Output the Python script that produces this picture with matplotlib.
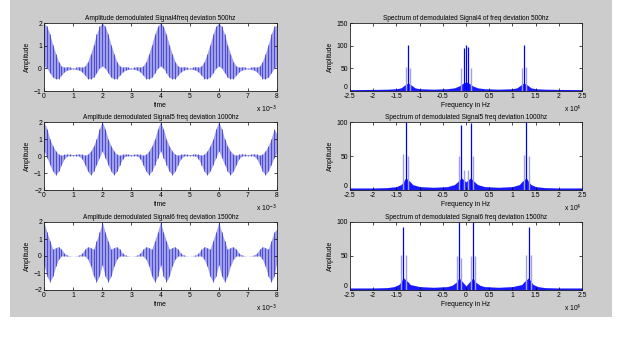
import numpy as np
import matplotlib
matplotlib.use('Agg')
import matplotlib.pyplot as plt
from matplotlib.patches import Rectangle

plt.rcParams['font.family'] = ['Liberation Sans', 'DejaVu Sans']

# ---- time domain: upper / lower envelope, sampled every 0.1 ms (0 .. 8 ms) ----
time_ms = np.arange(0, 8.05, 0.1)

sig4_up = [2.0, 1.85, 1.5, 1.05, 0.65, 0.3, 0.1, 0.05, 0.08, 0.05, 0.0, 0.05, 0.08, 0.05, 0.1, 0.3, 0.65, 1.05, 1.5, 1.85,
           2.0, 1.85, 1.5, 1.05, 0.65, 0.3, 0.1, 0.05, 0.08, 0.05, 0.0, 0.05, 0.08, 0.05, 0.1, 0.3, 0.65, 1.05, 1.5, 1.85,
           2.0, 1.85, 1.5, 1.05, 0.65, 0.3, 0.1, 0.05, 0.08, 0.05, 0.0, 0.05, 0.08, 0.05, 0.1, 0.3, 0.65, 1.05, 1.5, 1.85,
           2.0, 1.85, 1.5, 1.05, 0.65, 0.3, 0.1, 0.05, 0.08, 0.05, 0.0, 0.05, 0.08, 0.05, 0.1, 0.3, 0.65, 1.05, 1.5, 1.85,
           1.9]
sig4_lo = [0.1, 0.0, -0.2, -0.4, -0.45, -0.45, -0.3, -0.15, -0.08, -0.05, -0.02, -0.05, -0.08, -0.15, -0.3, -0.45, -0.45, -0.4, -0.2, 0.0,
           0.1, 0.0, -0.2, -0.4, -0.45, -0.45, -0.3, -0.15, -0.08, -0.05, -0.02, -0.05, -0.08, -0.15, -0.3, -0.45, -0.45, -0.4, -0.2, 0.0,
           0.1, 0.0, -0.2, -0.4, -0.45, -0.45, -0.3, -0.15, -0.08, -0.05, -0.02, -0.05, -0.08, -0.15, -0.3, -0.45, -0.45, -0.4, -0.2, 0.0,
           0.1, 0.0, -0.2, -0.4, -0.45, -0.45, -0.3, -0.15, -0.08, -0.05, -0.02, -0.05, -0.08, -0.15, -0.3, -0.45, -0.45, -0.4, -0.2, 0.0,
           0.1]

sig5_up = [2.0, 1.6, 1.0, 0.6, 0.3, 0.1, 0.05, 0.1, 0.12, 0.1, 0.08, 0.1, 0.12, 0.1, 0.05, 0.1, 0.3, 0.6, 1.0, 1.6,
           2.0, 1.6, 1.0, 0.6, 0.3, 0.1, 0.05, 0.1, 0.12, 0.1, 0.08, 0.1, 0.12, 0.1, 0.05, 0.1, 0.3, 0.6, 1.0, 1.6,
           2.0, 1.6, 1.0, 0.6, 0.3, 0.1, 0.05, 0.1, 0.12, 0.1, 0.08, 0.1, 0.12, 0.1, 0.05, 0.1, 0.3, 0.6, 1.0, 1.6,
           2.0, 1.6, 1.0, 0.6, 0.3, 0.1, 0.05, 0.1, 0.12, 0.1, 0.08, 0.1, 0.12, 0.1, 0.05, 0.1, 0.3, 0.6, 1.0, 1.6,
           1.3]
sig5_lo = [0.3, -0.1, -0.5, -0.9, -1.1, -0.9, -0.5, -0.15, 0.0, 0.02, 0.02, 0.02, 0.0, -0.15, -0.5, -0.9, -1.1, -0.9, -0.5, -0.1,
           0.3, -0.1, -0.5, -0.9, -1.1, -0.9, -0.5, -0.15, 0.0, 0.02, 0.02, 0.02, 0.0, -0.15, -0.5, -0.9, -1.1, -0.9, -0.5, -0.1,
           0.3, -0.1, -0.5, -0.9, -1.1, -0.9, -0.5, -0.15, 0.0, 0.02, 0.02, 0.02, 0.0, -0.15, -0.5, -0.9, -1.1, -0.9, -0.5, -0.1,
           0.3, -0.1, -0.5, -0.9, -1.1, -0.9, -0.5, -0.15, 0.0, 0.02, 0.02, 0.02, 0.0, -0.15, -0.5, -0.9, -1.1, -0.9, -0.5, -0.1,
           0.2]

sig6_up = [2.0, 1.4, 0.9, 0.4, 0.5, 0.55, 0.4, 0.15, 0.05, 0.02, 0.0, 0.02, 0.05, 0.15, 0.4, 0.55, 0.5, 0.4, 0.9, 1.4,
           2.0, 1.4, 0.9, 0.4, 0.5, 0.55, 0.4, 0.15, 0.05, 0.02, 0.0, 0.02, 0.05, 0.15, 0.4, 0.55, 0.5, 0.4, 0.9, 1.4,
           2.0, 1.4, 0.9, 0.4, 0.5, 0.55, 0.4, 0.15, 0.05, 0.02, 0.0, 0.02, 0.05, 0.15, 0.4, 0.55, 0.5, 0.4, 0.9, 1.4,
           2.0, 1.4, 0.9, 0.4, 0.5, 0.55, 0.4, 0.15, 0.05, 0.02, 0.0, 0.02, 0.05, 0.15, 0.4, 0.55, 0.5, 0.4, 0.9, 1.4,
           1.6]
sig6_lo = [-0.5, -1.2, -1.5, -1.2, -0.6, -0.2, 0.0, 0.0, 0.0, 0.0, 0.0, 0.0, 0.0, 0.0, 0.0, -0.2, -0.6, -1.2, -1.5, -1.2,
           -0.5, -1.2, -1.5, -1.2, -0.6, -0.2, 0.0, 0.0, 0.0, 0.0, 0.0, 0.0, 0.0, 0.0, 0.0, -0.2, -0.6, -1.2, -1.5, -1.2,
           -0.5, -1.2, -1.5, -1.2, -0.6, -0.2, 0.0, 0.0, 0.0, 0.0, 0.0, 0.0, 0.0, 0.0, 0.0, -0.2, -0.6, -1.2, -1.5, -1.2,
           -0.5, -1.2, -1.5, -1.2, -0.6, -0.2, 0.0, 0.0, 0.0, 0.0, 0.0, 0.0, 0.0, 0.0, 0.0, -0.2, -0.6, -1.2, -1.5, -1.2,
           -0.3]

# ---- spectra: main lines, side lines, and the noise floor ----
spec4_main_f = [-12500, -500, 0, 500, 12500]
spec4_main_a = [101, 95, 101, 97, 101]
spec4_side_f = [-13000, -12000, -1000, 1000, 12000, 13000]
spec4_side_a = [52, 50, 50, 50, 50, 53]
spec4_floor_f = [-25000, -20000, -17000, -15000, -14000, -13500, -12500, -11500, -11000, -10000, -7000, -4000,
                 -2500, -1500, -500, 0, 500, 1500, 2500, 4000, 7000, 10000, 11000, 11500, 12500, 13500, 14000,
                 15000, 17000, 20000, 25000]
spec4_floor_a = [3, 3.5, 4, 5, 7, 11, 18, 11, 7, 5, 4, 5, 7, 11, 18, 20, 18, 11, 7, 5, 4, 5, 7, 11, 18, 11, 7,
                 5, 4, 3.5, 3]

spec5_main_f = [-13000, -1000, 1000, 13000]
spec5_main_a = [100, 95, 98, 100]
spec5_side_f = [-13500, -12500, -1500, -500, 500, 1500, 12500, 13500]
spec5_side_a = [53, 50, 50, 30, 30, 50, 52, 50]
spec5_floor_f = [-25000, -20000, -17000, -15000, -14000, -13500, -13000, -12000, -11500, -10000, -7000, -4000,
                 -2500, -1500, -1000, 0, 1000, 1500, 2500, 4000, 7000, 10000, 11500, 12000, 13000, 13500, 14000,
                 15000, 17000, 20000, 25000]
spec5_floor_a = [3, 3, 3.5, 5, 8, 12, 18, 12, 8, 5, 4, 5, 8, 14, 18, 12, 18, 14, 8, 5, 4, 5, 8, 12, 18, 12, 8,
                 5, 3.5, 3, 3]

spec6_main_f = [-13500, -1500, 1500, 13500]
spec6_main_a = [93, 100, 100, 93]
spec6_side_f = [-14000, -13000, -2000, -1000, 1000, 2000, 13000, 14000]
spec6_side_a = [52, 52, 50, 47, 50, 50, 52, 52]
spec6_floor_f = [-25000, -20000, -17000, -15500, -14500, -14000, -13500, -12500, -12000, -10000, -7000, -4000,
                 -3000, -2000, -1500, 0, 1500, 2000, 3000, 4000, 7000, 10000, 12000, 12500, 13500, 14000, 14500,
                 15500, 17000, 20000, 25000]
spec6_floor_a = [3, 3, 3.5, 5, 8, 12, 18, 12, 8, 5, 4, 5, 7, 12, 18, 6, 18, 12, 7, 5, 4, 5, 8, 12, 18, 12, 8,
                 5, 3.5, 3, 3]

time_titles = ['Amplitude demodulated Signal4freq deviation 500hz',
               'Amplitude demodulated Signal5 freq deviation 1000hz',
               'Amplitude demodulated Signal6 freq deviation 1500hz']
spec_titles = ['Spectrum of demodulated Signal4 of freq deviation 500hz',
               'Spectrum of demodulated Signal5 freq deviation 1000hz',
               'Spectrum of demodulated Signal6 freq deviation 1500hz']

time_sets = [(sig4_up, sig4_lo), (sig5_up, sig5_lo), (sig6_up, sig6_lo)]
time_ylims = [(-1, 2), (-2, 2), (-2, 2)]
spec_sets = [(spec4_main_f, spec4_main_a, spec4_side_f, spec4_side_a, spec4_floor_f, spec4_floor_a),
             (spec5_main_f, spec5_main_a, spec5_side_f, spec5_side_a, spec5_floor_f, spec5_floor_a),
             (spec6_main_f, spec6_main_a, spec6_side_f, spec6_side_a, spec6_floor_f, spec6_floor_a)]
spec_ylims = [150, 100, 100]

W, H = 630, 354
fig = plt.figure(figsize=(W / 100, H / 100), dpi=100)
fig.patch.set_facecolor('white')
# MATLAB figure window grey
fig.patches.append(Rectangle((10 / W, 1 - 317 / H), 602 / W, 317 / H,
                             transform=fig.transFigure, facecolor='#cccccc', edgecolor='none', zorder=-10))

FS = 4.9       # ticks / axis labels
FS_T = 4.7     # titles
DARK = '#2a2ad0'
LIGHT = '#a0a0e8'
row_tops = [23, 122, 222]
ax_h = 68


def style_axes(ax):
    ax.set_facecolor('white')
    ax.tick_params(direction='in', top=True, right=True, length=2, width=0.5,
                   labelsize=FS, pad=1.5)
    for s in ax.spines.values():
        s.set_linewidth(0.6)
        s.set_color('#202020')


for i in range(3):
    bottom = 1 - (row_tops[i] + ax_h) / H
    # ---- time panel ----
    ax = fig.add_axes([44 / W, bottom, 233 / W, ax_h / H])
    up, lo = time_sets[i]
    t = time_ms * 1e-3
    ax.fill_between(t, lo, up, color=LIGHT, linewidth=0)
    ax.vlines(t, lo, up, color=DARK, linewidth=0.5)
    ax.set_xlim(0, 8e-3)
    ax.set_ylim(*time_ylims[i])
    ax.set_xticks(np.arange(0, 9) * 1e-3)
    ax.set_xticklabels([str(k) for k in range(9)])
    ax.set_yticks(np.arange(time_ylims[i][0], time_ylims[i][1] + 1))
    style_axes(ax)
    ax.set_title(time_titles[i], fontsize=FS_T, pad=2)
    ax.set_xlabel('time', fontsize=FS, labelpad=1.5)
    ax.set_ylabel('Amplitude', fontsize=FS, labelpad=2)
    ax.text(1.0, -0.27, r'x 10$^{-3}$', transform=ax.transAxes, fontsize=FS,
            ha='right', va='center')

    # ---- spectrum panel ----
    ax = fig.add_axes([350 / W, bottom, 232 / W, ax_h / H])
    mf, ma, sf, sa, ff, fa = spec_sets[i]
    ax.fill_between(ff, 0, fa, color='#0000ff', linewidth=0, alpha=0.9)
    ax.vlines(sf, 0, sa, color=LIGHT, linewidth=1.0)
    ax.vlines(mf, 0, ma, color='#0000ff', linewidth=0.9)
    ax.set_xlim(-25000, 25000)
    ax.set_ylim(0, spec_ylims[i])
    ax.set_xticks(np.arange(-25000, 25001, 5000))
    ax.set_xticklabels(['-2.5', '-2', '-1.5', '-1', '-0.5', '0', '0.5', '1', '1.5', '2', '2.5'])
    ax.set_yticks(np.arange(0, spec_ylims[i] + 1, 50))
    style_axes(ax)
    # the "0" sits just above the corner so it clears the "-2.5"
    ax.get_yticklabels()[0].set_va('bottom')
    ax.set_title(spec_titles[i], fontsize=FS_T, pad=2)
    ax.set_xlabel('Frequency in Hz', fontsize=FS, labelpad=1.5)
    ax.set_ylabel('Amplitude', fontsize=FS, labelpad=2)
    ax.text(1.0, -0.27, r'x 10$^{4}$', transform=ax.transAxes, fontsize=FS,
            ha='right', va='center')

fig.savefig('out.png', dpi=100, facecolor=fig.get_facecolor())
